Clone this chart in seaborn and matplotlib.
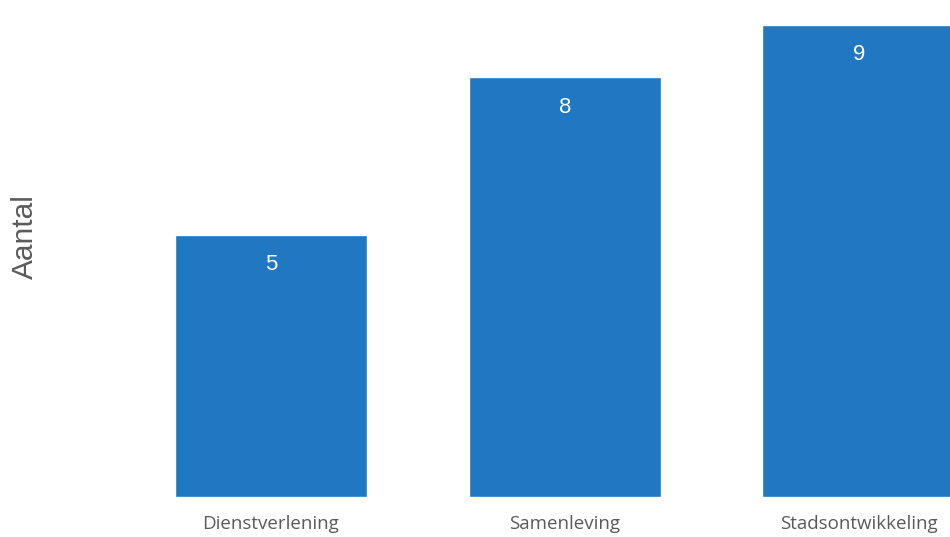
import matplotlib
matplotlib.use("Agg")
import matplotlib.pyplot as plt
import seaborn as sns
import pandas as pd

categories = ["Dienstverlening", "Samenleving", "Stadsontwikkeling"]
counts = [5, 8, 9]
y_label = "Aantal"

bar_color = "#1f78c1"
text_grey = "#5a5a5a"

sns.set_theme(style="white")
plt.rcParams["font.family"] = ["Liberation Sans", "DejaVu Sans"]

df = pd.DataFrame({"categorie": categories, "aantal": counts})

fig = plt.figure(figsize=(9.5, 5.37), dpi=100)
ax = fig.add_axes([124 / 950, 40 / 537, 826 / 950, 497 / 537])

sns.barplot(data=df, x="categorie", y="aantal", color=bar_color,
            width=0.656, saturation=1, ax=ax)

ax.set_xlim(-0.5, 2.31)
ax.set_ylim(0, 9.47)
sns.despine(ax=ax, left=True, bottom=True)
ax.set_yticks([])
ax.set_xlabel("")
ax.tick_params(axis="x", length=0, pad=13)
for lbl in ax.get_xticklabels():
    lbl.set_fontfamily(["Open Sans", "DejaVu Sans"])
    lbl.set_fontsize(13.5)
    lbl.set_color(text_grey)

ax.set_ylabel(y_label, fontsize=21.5, color=text_grey)
ax.yaxis.set_label_coords(-0.1035, 0.525)

# value labels just inside the top of each bar
for i, v in enumerate(counts):
    ax.annotate(str(v), xy=(i, v), xytext=(0, -30), textcoords="offset pixels",
                ha="center", va="center", color="white", fontsize=16)

fig.savefig("out.png", dpi=100)
